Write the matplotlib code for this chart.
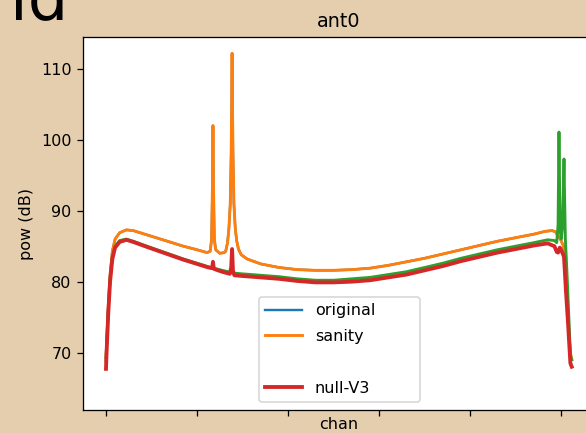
import matplotlib
matplotlib.use("Agg")

import matplotlib.pyplot as plt
from matplotlib.lines import Line2D

# spectrum of antenna 0, power per channel
chan_sanity = [
    0, 2, 5, 9, 14, 20, 30, 45, 60, 90, 130, 170, 200, 222, 229,
    232, 234, 235, 236, 238, 241, 250, 260,
    263, 267, 270, 273, 275, 276, 277, 278, 279, 281, 284, 287, 291, 297,
    310, 340, 380, 420, 460, 500, 540, 580, 620, 660, 700, 740, 780,
    820, 860, 900, 940, 965, 980, 988, 992, 998, 1005, 1010, 1015, 1020, 1023
]

pow_sanity = [
    68.8, 72.0, 76.5, 81.0, 84.3, 86.0, 86.9, 87.3, 87.2, 86.6, 85.8, 85.0, 84.5, 84.1, 84.3,
    86.0, 94.0, 102.0, 94.0, 86.0, 84.5, 84.0, 84.1,
    84.3, 85.5, 87.5, 91.0, 98.0, 104.0, 112.2, 104.0, 98.0, 91.0, 87.5, 85.8, 84.6, 83.8,
    83.2, 82.5, 82.0, 81.7, 81.6, 81.6, 81.7, 81.9, 82.3, 82.8, 83.3, 83.9, 84.5,
    85.1, 85.7, 86.2, 86.7, 87.1, 87.2, 87.0, 86.5, 86.0, 85.0, 80.0, 75.0, 70.0, 69.0
]

# original sits exactly under sanity
chan_original = list(chan_sanity)
pow_original = list(pow_sanity)

chan_null_v2 = [
    0, 2, 5, 9, 14, 20, 30, 45, 60, 90, 130, 170, 200, 225, 255, 282,
    300, 340, 380, 420, 460, 500, 540, 580, 620, 660, 700, 740, 780,
    820, 860, 900, 940, 970, 985, 990, 993, 995, 996, 998, 1000,
    1003, 1005, 1006, 1007, 1009, 1012, 1016, 1020, 1023
]

pow_null_v2 = [
    69.3, 72.0, 76.0, 80.3, 83.4, 85.0, 85.8, 86.0, 85.7, 85.0, 84.1, 83.2, 82.6, 82.1, 81.6, 81.2,
    81.1, 80.9, 80.7, 80.4, 80.2, 80.2, 80.4, 80.6, 81.0, 81.4, 82.0, 82.6, 83.3,
    83.9, 84.5, 85.0, 85.5, 85.9, 85.8, 85.5, 88.0, 101.1, 95.0, 87.0, 86.0,
    88.0, 94.0, 97.3, 93.0, 86.0, 82.0, 76.0, 69.5, 69.0
]

chan_null_v3 = [
    0, 2, 5, 9, 14, 20, 30, 45, 60, 90, 130, 170, 200, 225, 233, 235, 237,
    255, 272, 275, 277, 279, 282, 300, 340, 380, 420, 460, 500, 540, 580,
    620, 660, 700, 740, 780, 820, 860, 900, 940, 970, 985, 990, 993, 997,
    1003, 1006, 1010, 1015, 1020, 1023
]

pow_null_v3 = [
    67.7, 71.0, 75.5, 80.0, 83.2, 84.8, 85.6, 85.9, 85.6, 84.9, 84.0, 83.1, 82.5, 82.0, 81.9, 82.8, 81.8,
    81.4, 81.1, 82.0, 84.6, 81.5, 80.9, 80.8, 80.6, 80.4, 80.1, 79.9, 79.9, 80.0, 80.2,
    80.6, 81.0, 81.6, 82.2, 82.9, 83.5, 84.1, 84.6, 85.1, 85.4, 85.0, 84.2, 84.1, 84.8,
    84.0, 83.5, 79.0, 74.0, 68.5, 68.0
]

chan_ticks = [0, 200, 400, 600, 800, 1000]

fig = plt.figure(
    figsize=(586 / 115, 433 / 115),
    dpi=115,
    facecolor="#e5ceae"
)

ax = fig.add_axes([0.1411, 0.0531, 0.8743, 0.8614])
ax.set_facecolor("white")

line_orig, = ax.plot(chan_original, pow_original, color="tab:blue", lw=1.5)
line_san, = ax.plot(chan_sanity, pow_sanity, color="tab:orange", lw=1.8)
line_v2, = ax.plot(chan_null_v2, pow_null_v2, color="tab:green", lw=1.8)
line_v3, = ax.plot(chan_null_v3, pow_null_v3, color="tab:red", lw=2.4)

ax.set_xlim(-51.15, 1074.15)
ax.set_ylim(61.9, 114.5)

ax.set_xticks(chan_ticks)
ax.set_xticklabels([""] * len(chan_ticks))
ax.set_yticks([70, 80, 90, 100, 110])

ax.set_title("ant0")
ax.set_xlabel("chan")
ax.xaxis.set_label_coords(0.5, -0.018)
ax.set_ylabel("pow (dB)")

# blank slot where the null-V2 entry used to be
blank = Line2D([], [], color="none")

ax.legend(
    [line_orig, line_san, blank, line_v3],
    ["original", "sanity", "", "null-V3"],
    loc="lower left",
    bbox_to_anchor=(0.344, 0.021, 0.314, 0.30),
    mode="expand",
    borderaxespad=0,
    labelspacing=0.68,
    handlelength=2.3
)

fig.text(
    10 / 586,
    1 - 19 / 433,
    "ld",
    fontsize=40,
    va="baseline",
    ha="left"
)

fig.savefig("out.png", dpi=115, facecolor=fig.get_facecolor())
